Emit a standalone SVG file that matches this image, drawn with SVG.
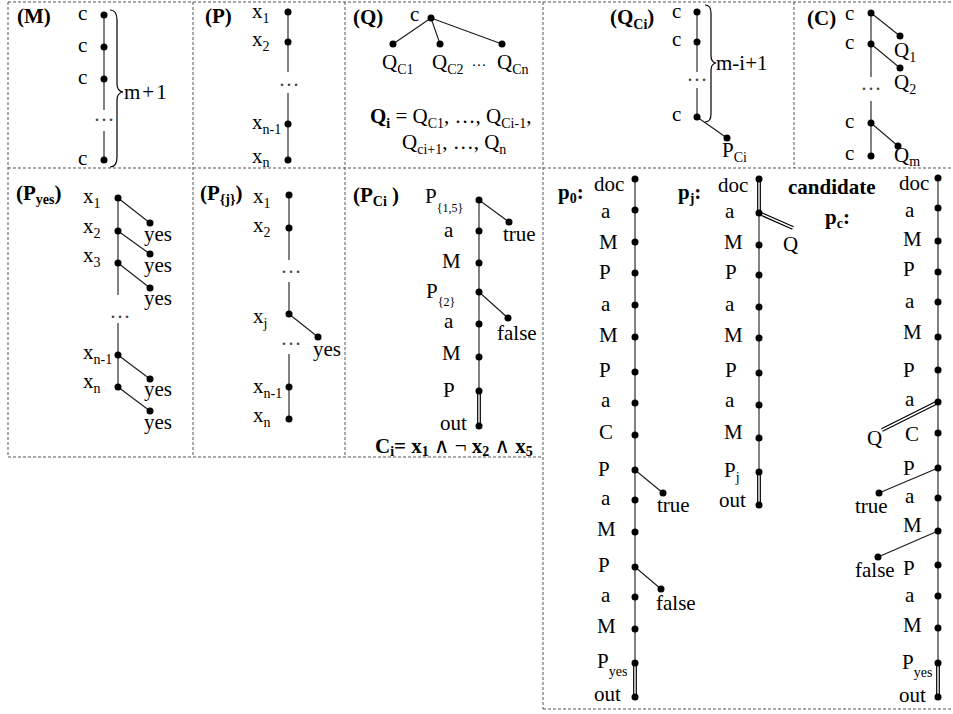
<svg xmlns="http://www.w3.org/2000/svg" width="953" height="714" viewBox="0 0 953 714">
<style>
text{font-family:"Liberation Serif","Times New Roman","DejaVu Serif",serif;font-size:21px;fill:#000}
.b{font-weight:bold}
.n{font-weight:normal}
.s{font-size:14px}
.xs{font-size:12px}
.dots{fill:#444}
.bd{fill:none;stroke:#555;stroke-width:1;stroke-dasharray:3 2}
.e{stroke:#1a1a1a;stroke-width:1.1;fill:none}
.d1{stroke:#000;stroke-width:3.8;fill:none}
.d2{stroke:#fff;stroke-width:1.4;fill:none}
.br{fill:none;stroke:#000;stroke-width:1.2}
circle{fill:#000}
</style>
<rect width="953" height="714" fill="#fff"/>
<g id="borders">
<path class="bd" d="M8,2H953 M8,168H953 M8,457H543 M543,709H953 M8,2V457 M193,2V457 M345,2V457 M543,2V709 M794,2V168"/>
</g>
<g id="connectors">
<path class="e" d="M104,15V110 M104,131V160"/>
<path class="e" d="M288,12V72 M288,93V160"/>
<path class="e" d="M431,18L393,44 M431,18L440,44 M431,18L502,44"/>
<path class="e" d="M697,12V72 M697,88V117 M697,117L727,138"/>
<path class="e" d="M871,13V77 M871,101V156 M871,13L900,36 M871,44L900,68 M871,123L898,146"/>
<path class="e" d="M118,198V295 M118,323V387 M118,198L150,223 M118,231L150,254 M118,263L150,288 M118,355L150,379 M118,387L150,411"/>
<path class="e" d="M289,195V260 M289,282V314 M289,354V419 M289,314L318,337"/>
<path class="e" d="M479,200V391 M479,200L509,222 M479,292L508,318"/>
<path class="d1" d="M479,391V426"/><path class="d2" d="M479,391V426"/>
<path class="e" d="M635,179V663 M635,470L663,493 M635,567L661,589"/>
<path class="d1" d="M635,663V697"/><path class="d2" d="M635,663V697"/>
<path class="e" d="M759,213V472"/>
<path class="d1" d="M759,179V213 M759,213L793,228 M759,472V505"/><path class="d2" d="M759,179V213 M759,213L793,228 M759,472V505"/>
<path class="e" d="M938,178V663 M938,468L879,493 M938,531L878,557"/>
<path class="d1" d="M938,402L882,430 M938,663V697"/><path class="d2" d="M938,402L882,430 M938,663V697"/>
</g>
<g id="panel-M">
<text class="b" x="17" y="23">(M)</text>
<g id="M-n1"><circle cx="104" cy="15" r="3.5"/><text x="78" y="20">c</text></g>
<g id="M-n2"><circle cx="104" cy="47" r="3.5"/><text x="78" y="52">c</text></g>
<g id="M-n3"><circle cx="104" cy="79" r="3.5"/><text x="78" y="84">c</text></g>
<text class="dots" x="104" y="121" text-anchor="middle">…</text>
<g id="M-n4"><circle cx="104" cy="160" r="3.5"/><text x="78" y="165">c</text></g>
<path class="br" d="M110,10 Q117,10 117,20 L117,84 Q117,91 123,92 Q117,93 117,100 L117,157 Q117,167 110,167"/>
<text x="124" y="99" style="letter-spacing:2px">m+1</text>
</g>
<g id="panel-P">
<text class="b" x="205" y="23">(P)</text>
<g id="P-n1"><circle cx="288" cy="12" r="3.5"/><text x="252" y="18">x<tspan class="s" dy="5">1</tspan></text></g>
<g id="P-n2"><circle cx="288" cy="42" r="3.5"/><text x="252" y="46">x<tspan class="s" dy="5">2</tspan></text></g>
<text class="dots" x="289" y="86" text-anchor="middle">…</text>
<g id="P-n3"><circle cx="288" cy="124" r="3.5"/><text x="252" y="129">x<tspan class="s" dy="5">n-1</tspan></text></g>
<g id="P-n4"><circle cx="288" cy="160" r="3.5"/><text x="252" y="163">x<tspan class="s" dy="4">n</tspan></text></g>
</g>
<g id="panel-Q">
<text class="b" x="353" y="24">(Q)</text>
<g id="Q-root"><circle cx="431" cy="18" r="3.5"/><text x="410" y="21">c</text></g>
<g id="Q-c1"><circle cx="393" cy="44" r="3.5"/><text x="382" y="69">Q<tspan class="s" dy="5">C1</tspan></text></g>
<g id="Q-c2"><circle cx="440" cy="44" r="3.5"/><text x="432" y="69">Q<tspan class="s" dy="5">C2</tspan></text></g>
<text x="479" y="66" text-anchor="middle" style="font-size:15px">…</text>
<g id="Q-cn"><circle cx="502" cy="44" r="3.5"/><text x="497" y="69">Q<tspan class="s" dy="5">Cn</tspan></text></g>
<text x="370" y="123"><tspan class="b">Q</tspan><tspan class="s b" dy="5">i</tspan><tspan dy="-5"> = Q</tspan><tspan class="s" dy="5">C1</tspan><tspan dy="-5">, …, Q</tspan><tspan class="s" dy="5">Ci-1</tspan><tspan dy="-5">,</tspan></text>
<text x="402" y="149">Q<tspan class="s" dy="5">ci+1</tspan><tspan dy="-5">, …, Q</tspan><tspan class="s" dy="5">n</tspan></text>
</g>
<g id="panel-QCi">
<text class="b" x="610" y="24">(Q<tspan class="s" dy="5">Ci</tspan><tspan dy="-5">)</tspan></text>
<g id="QCi-n1"><circle cx="697" cy="12" r="3.5"/><text x="672" y="18">c</text></g>
<g id="QCi-n2"><circle cx="697" cy="42" r="3.5"/><text x="672" y="46">c</text></g>
<text class="dots" x="697" y="81" text-anchor="middle">…</text>
<g id="QCi-n3"><circle cx="697" cy="117" r="3.5"/><text x="672" y="121">c</text></g>
<g id="QCi-p"><circle cx="727" cy="138" r="3.5"/><text x="722" y="157">P<tspan class="s" dy="5">Ci</tspan></text></g>
<path class="br" d="M705,5 Q711,5 711,13 L711,56 Q711,62 716,63 Q711,64 711,70 L711,114 Q711,122 705,122"/>
<text x="716" y="70">m-i+1</text>
</g>
<g id="panel-C">
<text class="b" x="807" y="25">(C)</text>
<g id="C-n1"><circle cx="871" cy="13" r="3.5"/><text x="845" y="20">c</text></g>
<g id="C-n2"><circle cx="871" cy="44" r="3.5"/><text x="845" y="49">c</text></g>
<text class="dots" x="871" y="90" text-anchor="middle">…</text>
<g id="C-n3"><circle cx="871" cy="123" r="3.5"/><text x="845" y="128">c</text></g>
<g id="C-n4"><circle cx="871" cy="156" r="3.5"/><text x="845" y="160">c</text></g>
<g id="C-q1"><circle cx="900" cy="36" r="3.5"/><text x="894" y="57">Q<tspan class="s" dy="5">1</tspan></text></g>
<g id="C-q2"><circle cx="900" cy="68" r="3.5"/><text x="894" y="89">Q<tspan class="s" dy="5">2</tspan></text></g>
<g id="C-qm"><circle cx="898" cy="146" r="3.5"/><text x="894" y="162">Q<tspan class="s" dy="4">m</tspan></text></g>
</g>
<g id="panel-Pyes">
<text class="b" x="16" y="200">(P<tspan class="s" dy="4">yes</tspan><tspan dy="-4">)</tspan></text>
<g id="Pyes-n1"><circle cx="118" cy="198" r="3.5"/><text x="83" y="203">x<tspan class="s" dy="5">1</tspan></text></g>
<g id="Pyes-n2"><circle cx="118" cy="231" r="3.5"/><text x="83" y="233">x<tspan class="s" dy="5">2</tspan></text></g>
<g id="Pyes-n3"><circle cx="118" cy="263" r="3.5"/><text x="83" y="262">x<tspan class="s" dy="5">3</tspan></text></g>
<text class="dots" x="120" y="318" text-anchor="middle">…</text>
<g id="Pyes-n4"><circle cx="118" cy="355" r="3.5"/><text x="83" y="359">x<tspan class="s" dy="5">n-1</tspan></text></g>
<g id="Pyes-n5"><circle cx="118" cy="387" r="3.5"/><text x="83" y="388">x<tspan class="s" dy="5">n</tspan></text></g>
<g id="Pyes-y1"><circle cx="150" cy="223" r="3.5"/><text x="144" y="241">yes</text></g>
<g id="Pyes-y2"><circle cx="150" cy="254" r="3.5"/><text x="144" y="272">yes</text></g>
<g id="Pyes-y3"><circle cx="150" cy="288" r="3.5"/><text x="144" y="305">yes</text></g>
<g id="Pyes-y4"><circle cx="150" cy="379" r="3.5"/><text x="144" y="396">yes</text></g>
<g id="Pyes-y5"><circle cx="150" cy="411" r="3.5"/><text x="144" y="429">yes</text></g>
</g>
<g id="panel-Pj">
<text class="b" x="200" y="200">(P<tspan class="s" dy="4">{j}</tspan><tspan dy="-4">)</tspan></text>
<g id="Pj-n1"><circle cx="289" cy="195" r="3.5"/><text x="253" y="203">x<tspan class="s" dy="5">1</tspan></text></g>
<g id="Pj-n2"><circle cx="289" cy="228" r="3.5"/><text x="253" y="232">x<tspan class="s" dy="5">2</tspan></text></g>
<text class="dots" x="291" y="273" text-anchor="middle">…</text>
<g id="Pj-n3"><circle cx="289" cy="314" r="3.5"/><text x="253" y="323">x<tspan class="s" dy="5">j</tspan></text></g>
<text class="dots" x="291" y="345" text-anchor="middle">…</text>
<g id="Pj-n4"><circle cx="289" cy="387" r="3.5"/><text x="253" y="393">x<tspan class="s" dy="5">n-1</tspan></text></g>
<g id="Pj-n5"><circle cx="289" cy="419" r="3.5"/><text x="253" y="422">x<tspan class="s" dy="5">n</tspan></text></g>
<g id="Pj-yes"><circle cx="318" cy="337" r="3.5"/><text x="313" y="356">yes</text></g>
</g>
<g id="panel-PCi">
<text class="b" x="353" y="202">(P<tspan class="s" dy="4">Ci</tspan><tspan dy="-4"> )</tspan></text>
<g id="PCi-n1"><circle cx="479" cy="200" r="3.5"/><text x="425" y="203">P<tspan class="xs" dy="9">{1,5}</tspan></text></g>
<g id="PCi-n2"><circle cx="479" cy="231" r="3.5"/><text x="444" y="237">a</text></g>
<g id="PCi-n3"><circle cx="479" cy="263" r="3.5"/><text x="442" y="268">M</text></g>
<g id="PCi-n4"><circle cx="479" cy="292" r="3.5"/><text x="426" y="298">P<tspan class="xs" dy="8">{2}</tspan></text></g>
<g id="PCi-n5"><circle cx="479" cy="324" r="3.5"/><text x="444" y="328">a</text></g>
<g id="PCi-n6"><circle cx="479" cy="357" r="3.5"/><text x="442" y="360">M</text></g>
<g id="PCi-n7"><circle cx="479" cy="391" r="3.5"/><text x="443" y="397">P</text></g>
<g id="PCi-n8"><circle cx="479" cy="426" r="3.5"/><text x="440" y="430">out</text></g>
<g id="PCi-true"><circle cx="509" cy="222" r="3.5"/><text x="503" y="241">true</text></g>
<g id="PCi-false"><circle cx="508" cy="318" r="3.5"/><text x="497" y="340">false</text></g>
<text class="b" x="375" y="453">C<tspan class="s" dy="3">i</tspan><tspan dy="-3">= x</tspan><tspan class="s" dy="3">1</tspan><tspan class="n" dy="-3"> ∧ ¬ </tspan><tspan>x</tspan><tspan class="s" dy="3">2</tspan><tspan class="n" dy="-3"> ∧ </tspan><tspan>x</tspan><tspan class="s" dy="3">5</tspan></text>
</g>
<g id="panel-p0">
<text class="b" x="558" y="199">p<tspan class="s" dy="4">0</tspan><tspan dy="-4">:</tspan></text>
<g id="p0-n1"><circle cx="635" cy="179" r="3.5"/><text x="594" y="191">doc</text></g>
<g id="p0-n2"><circle cx="635" cy="210" r="3.5"/><text x="601" y="218">a</text></g>
<g id="p0-n3"><circle cx="635" cy="242" r="3.5"/><text x="599" y="249">M</text></g>
<g id="p0-n4"><circle cx="635" cy="273" r="3.5"/><text x="599" y="279">P</text></g>
<g id="p0-n5"><circle cx="635" cy="305" r="3.5"/><text x="601" y="311">a</text></g>
<g id="p0-n6"><circle cx="635" cy="337" r="3.5"/><text x="599" y="342">M</text></g>
<g id="p0-n7"><circle cx="635" cy="372" r="3.5"/><text x="599" y="377">P</text></g>
<g id="p0-n8"><circle cx="635" cy="403" r="3.5"/><text x="601" y="407">a</text></g>
<g id="p0-n9"><circle cx="635" cy="435" r="3.5"/><text x="599" y="439">C</text></g>
<g id="p0-n10"><circle cx="635" cy="470" r="3.5"/><text x="598" y="476">P</text></g>
<g id="p0-n11"><circle cx="635" cy="500" r="3.5"/><text x="601" y="505">a</text></g>
<g id="p0-n12"><circle cx="635" cy="532" r="3.5"/><text x="597" y="536">M</text></g>
<g id="p0-n13"><circle cx="635" cy="567" r="3.5"/><text x="598" y="572">P</text></g>
<g id="p0-n14"><circle cx="635" cy="597" r="3.5"/><text x="601" y="602">a</text></g>
<g id="p0-n15"><circle cx="635" cy="629" r="3.5"/><text x="597" y="633">M</text></g>
<g id="p0-n16"><circle cx="635" cy="663" r="3.5"/><text x="597" y="668">P<tspan class="s" dy="8">yes</tspan></text></g>
<g id="p0-n17"><circle cx="635" cy="697" r="3.5"/><text x="594" y="701">out</text></g>
<g id="p0-true"><circle cx="663" cy="493" r="3.5"/><text x="657" y="512">true</text></g>
<g id="p0-false"><circle cx="661" cy="589" r="3.5"/><text x="656" y="610">false</text></g>
</g>
<g id="panel-pj">
<text class="b" x="678" y="199">p<tspan class="s" dy="4">j</tspan><tspan dy="-4">:</tspan></text>
<g id="pj-n1"><circle cx="759" cy="179" r="3.5"/><text x="718" y="192">doc</text></g>
<g id="pj-n2"><circle cx="759" cy="213" r="3.5"/><text x="725" y="218">a</text></g>
<g id="pj-n3"><circle cx="759" cy="245" r="3.5"/><text x="724" y="249">M</text></g>
<g id="pj-n4"><circle cx="759" cy="275" r="3.5"/><text x="725" y="279">P</text></g>
<g id="pj-n5"><circle cx="759" cy="307" r="3.5"/><text x="725" y="311">a</text></g>
<g id="pj-n6"><circle cx="759" cy="338" r="3.5"/><text x="724" y="342">M</text></g>
<g id="pj-n7"><circle cx="759" cy="373" r="3.5"/><text x="725" y="377">P</text></g>
<g id="pj-n8"><circle cx="759" cy="405" r="3.5"/><text x="725" y="407">a</text></g>
<g id="pj-n9"><circle cx="759" cy="438" r="3.5"/><text x="724" y="439">M</text></g>
<g id="pj-n10"><circle cx="759" cy="472" r="3.5"/><text x="724" y="477">P<tspan class="s" dy="5">j</tspan></text></g>
<g id="pj-n11"><circle cx="759" cy="505" r="3.5"/><text x="719" y="507">out</text></g>
<text x="783" y="251">Q</text>
</g>
<g id="panel-pc">
<text class="b" x="788" y="194">candidate</text>
<text class="b" x="825" y="224">p<tspan class="s" dy="4">c</tspan><tspan dy="-4">:</tspan></text>
<g id="pc-n1"><circle cx="938" cy="178" r="3.5"/><text x="899" y="190">doc</text></g>
<g id="pc-n2"><circle cx="938" cy="208" r="3.5"/><text x="905" y="217">a</text></g>
<g id="pc-n3"><circle cx="938" cy="241" r="3.5"/><text x="903" y="246">M</text></g>
<g id="pc-n4"><circle cx="938" cy="272" r="3.5"/><text x="903" y="276">P</text></g>
<g id="pc-n5"><circle cx="938" cy="302" r="3.5"/><text x="905" y="308">a</text></g>
<g id="pc-n6"><circle cx="938" cy="337" r="3.5"/><text x="903" y="339">M</text></g>
<g id="pc-n7"><circle cx="938" cy="370" r="3.5"/><text x="903" y="377">P</text></g>
<g id="pc-n8"><circle cx="938" cy="402" r="3.5"/><text x="905" y="406">a</text></g>
<g id="pc-n9"><circle cx="938" cy="433" r="3.5"/><text x="905" y="441">C</text></g>
<g id="pc-n10"><circle cx="938" cy="468" r="3.5"/><text x="903" y="475">P</text></g>
<g id="pc-n11"><circle cx="938" cy="498" r="3.5"/><text x="905" y="503">a</text></g>
<g id="pc-n12"><circle cx="938" cy="531" r="3.5"/><text x="903" y="532">M</text></g>
<g id="pc-n13"><circle cx="938" cy="565" r="3.5"/><text x="903" y="575">P</text></g>
<g id="pc-n14"><circle cx="938" cy="596" r="3.5"/><text x="905" y="602">a</text></g>
<g id="pc-n15"><circle cx="938" cy="628" r="3.5"/><text x="903" y="632">M</text></g>
<g id="pc-n16"><circle cx="938" cy="663" r="3.5"/><text x="902" y="669">P<tspan class="s" dy="8">yes</tspan></text></g>
<g id="pc-n17"><circle cx="938" cy="697" r="3.5"/><text x="899" y="702">out</text></g>
<text x="867" y="445">Q</text>
<g id="pc-true"><circle cx="879" cy="493" r="3.5"/><text x="855" y="513">true</text></g>
<g id="pc-false"><circle cx="878" cy="557" r="3.5"/><text x="855" y="577">false</text></g>
</g>
</svg>
